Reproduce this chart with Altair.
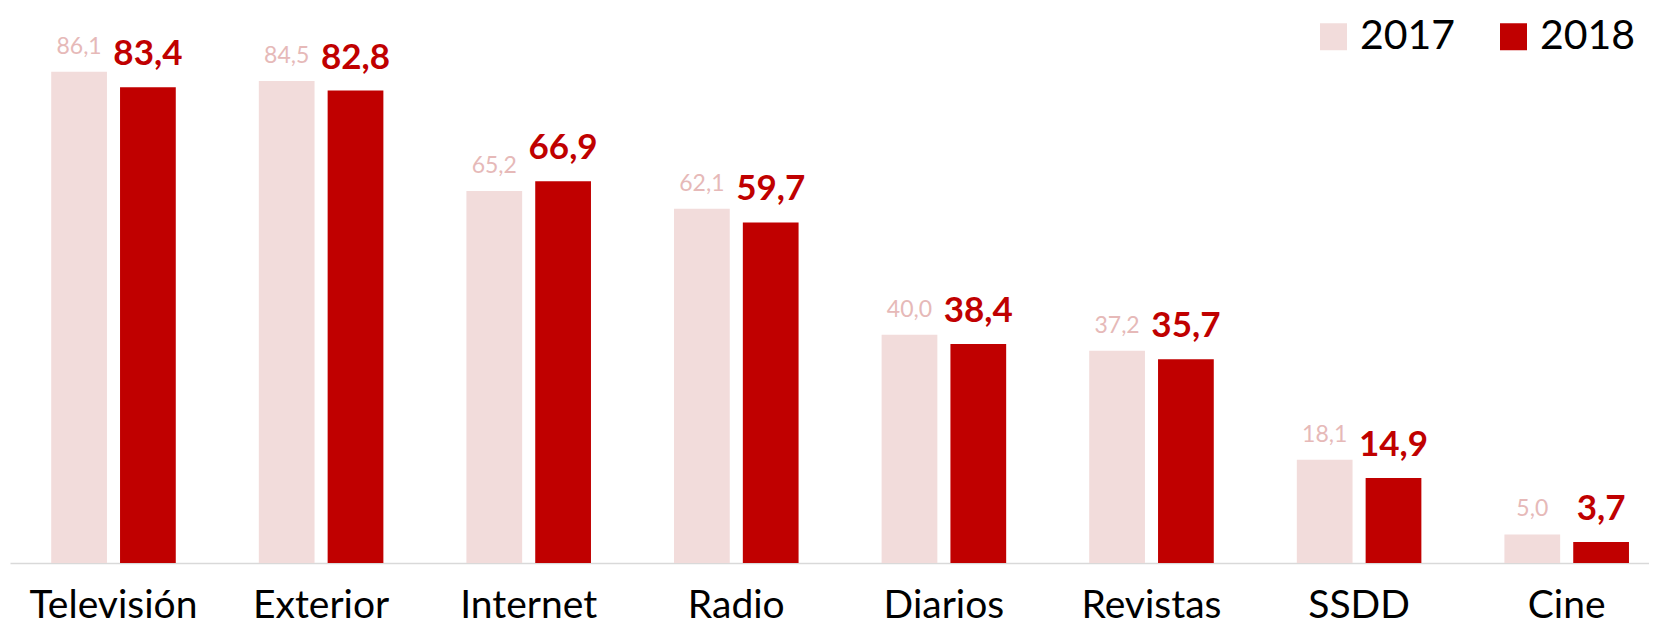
import altair as alt
import pandas as pd

categories = ["Televisión", "Exterior", "Internet", "Radio", "Diarios", "Revistas", "SSDD", "Cine"]
years = ["2017", "2018"]
values_2017 = [86.1, 84.5, 65.2, 62.1, 40.0, 37.2, 18.1, 5.0]
values_2018 = [83.4, 82.8, 66.9, 59.7, 38.4, 35.7, 14.9, 3.7]

rows = []
for c, a, b in zip(categories, values_2017, values_2018):
    rows.append({"medio": c, "year": "2017", "value": a})
    rows.append({"medio": c, "year": "2018", "value": b})
df = pd.DataFrame(rows)

FONT = "Lato"

x = alt.X(
    "medio:N", sort=categories, title=None,
    scale=alt.Scale(paddingInner=0.4, paddingOuter=0.1475, align=0.673),
    axis=alt.Axis(labelAngle=0, ticks=False, tickSize=0, labelPadding=54,
                  labelBaseline="alphabetic", labelFontSize=39, labelFont=FONT,
                  labelColor="#000000", domainColor="#D9D9D9", domainWidth=1.5,
                  labelLimit=400, grid=False),
)
y = alt.Y("value:Q", scale=alt.Scale(domain=[0, 97.28], nice=False, zero=True), axis=None)
xo = alt.XOffset("year:N", sort=years, scale=alt.Scale(paddingInner=0.19, paddingOuter=0))

bars = alt.Chart(df).mark_bar().encode(
    x=x, y=y, xOffset=xo,
    color=alt.Color(
        "year:N", sort=years,
        scale=alt.Scale(domain=years, range=["#F2DCDB", "#C00000"]),
        legend=alt.Legend(title=None, orient="none", legendX=1303, legendY=8,
                          direction="horizontal", symbolType="square", symbolSize=729,
                          symbolStrokeWidth=0, labelFont=FONT, labelFontSize=41,
                          labelColor="#000000", labelOffset=6, columnPadding=37),
    ),
)

fmt = "replace(format(datum.value, '.1f'), '.', ',')"

text17 = alt.Chart(df).transform_filter("datum.year == '2017'").transform_calculate(
    label=fmt
).mark_text(font=FONT, fontSize=23, color="#E6B9B8", baseline="alphabetic", dy=-18).encode(
    x=x, y=y, xOffset=xo, text="label:N"
)

text18 = alt.Chart(df).transform_filter("datum.year == '2018'").transform_calculate(
    label=fmt
).mark_text(font=FONT, fontSize=35, fontWeight="bold", color="#C00000", baseline="alphabetic", dy=-22).encode(
    x=x, y=y, xOffset=xo, text="label:N"
)

chart = alt.layer(bars, text17, text18).properties(
    width=1639, height=555,
    padding={"left": 2, "top": 0, "right": 0, "bottom": 63},
    autosize=alt.AutoSizeParams(type="none"),
).configure_view(stroke=None)

chart.save("out.html", embed_options={"renderer": "svg", "actions": False})
